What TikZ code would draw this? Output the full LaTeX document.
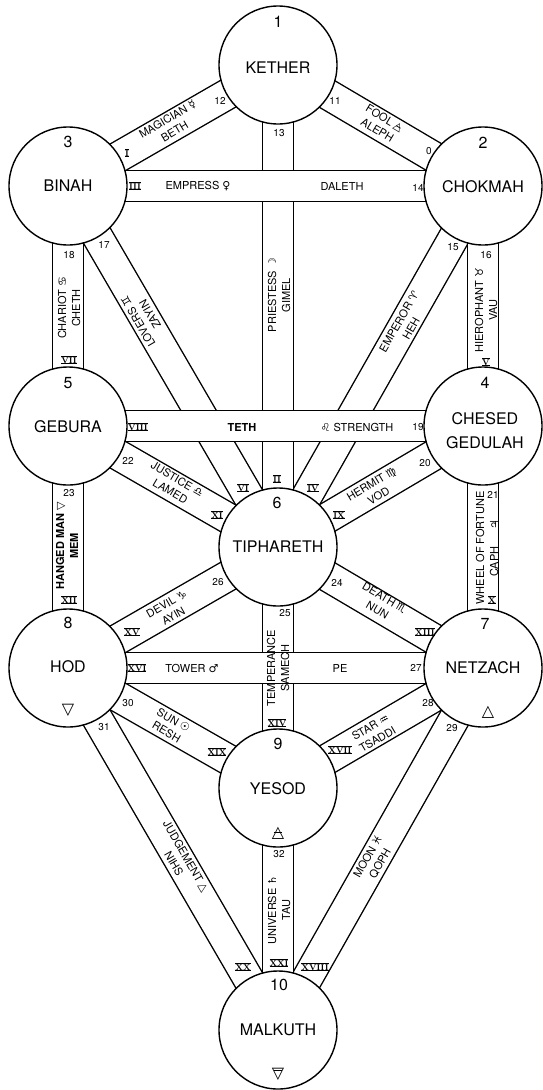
\documentclass[tikz,border=0pt]{standalone}
\usepackage{fontspec}
\newfontfamily\hv{TeX Gyre Heros}
\newfontfamily\dv{DejaVu Sans}
\pgfdeclarelayer{bands}
\pgfsetlayers{bands,main}
\newcommand\sy[1]{{\dv #1}}
\newcommand\airtri{\ooalign{{\dv △}\cr\hidewidth\rule[0.28em]{0.45em}{0.07em}\hidewidth\cr}}
\newcommand\earthtri{\ooalign{{\dv ▽}\cr\hidewidth\rule[0.45em]{0.45em}{0.07em}\hidewidth\cr}}
\newcommand\rn[1]{{\rmfamily\fontsize{8.5pt}{8.5pt}\selectfont\bfseries\setbox0=\hbox{#1}\rlap{\rule[-1pt]{\wd0}{0.8pt}}\rlap{\rule[6.4pt]{\wd0}{0.8pt}}\box0}}
\begin{document}
\begin{tikzpicture}[x=1pt,y=-1pt,
  seph/.style={circle, draw, line width=1.4pt, fill=white, minimum size=118pt, inner sep=0pt},
  band/.style={line width=1.4pt, double=white, double distance=29.2pt},
  sname/.style={font=\hv\fontsize{16}{16}\selectfont, inner sep=0pt},
  ssym/.style={font=\dv\fontsize{16}{16}\selectfont, inner sep=0pt},
  plab/.style={font=\hv\fontsize{11}{14}\selectfont, align=center, inner sep=0pt},
  pnum/.style={font=\hv\fontsize{10}{10}\selectfont, inner sep=0pt},
  rnum/.style={inner sep=0pt}]
\useasboundingbox (0,0) rectangle (542,1090);
% sephiroth
\node[seph] (kether)  at (278,65) {};
\node[seph] (chokmah) at (483,186) {};
\node[seph] (binah)   at (68,186) {};
\node[seph] (chesed)  at (483,426) {};
\node[seph] (gebura)  at (68,426) {};
\node[seph] (tiph)    at (278,547) {};
\node[seph] (netzach) at (483,668) {};
\node[seph] (hod)     at (68,668) {};
\node[seph] (yesod)   at (278,788) {};
\node[seph] (malkuth) at (278,1030) {};
% paths
\begin{pgfonlayer}{bands}
\fill[white] (0,0) rectangle (542,1090);
% diagonals
\draw[band] (kether.center) -- (chokmah.center);
\draw[band] (kether.center) -- (binah.center);
\draw[band] (chokmah.center) -- (tiph.center);
\draw[band] (binah.center) -- (tiph.center);
\draw[band] (chesed.center) -- (tiph.center);
\draw[band] (gebura.center) -- (tiph.center);
\draw[band] (tiph.center) -- (netzach.center);
\draw[band] (tiph.center) -- (hod.center);
\draw[band] (netzach.center) -- (yesod.center);
\draw[band] (hod.center) -- (yesod.center);
\draw[band] (netzach.center) -- (malkuth.center);
\draw[band] (hod.center) -- (malkuth.center);
% verticals
\draw[band] (kether.center) -- (tiph.center);
\draw[band] (chokmah.center) -- (chesed.center);
\draw[band] (binah.center) -- (gebura.center);
\draw[band] (chesed.center) -- (netzach.center);
\draw[band] (gebura.center) -- (hod.center);
\draw[band] (tiph.center) -- (yesod.center);
\draw[band] (yesod.center) -- (malkuth.center);
% horizontals
\draw[band] (binah.center) -- (chokmah.center);
\draw[band] (gebura.center) -- (chesed.center);
\draw[band] (hod.center) -- (netzach.center);
\end{pgfonlayer}
% sephira texts
\node[sname] (n1) at (278,22) {1};
\node[sname] (t1) at (278,68) {KETHER};
\node[sname] (n2) at (483,143) {2};
\node[sname] (t2) at (483,187) {CHOKMAH};
\node[sname] (n3) at (68,142) {3};
\node[sname] (t3) at (68,186) {BINAH};
\node[sname] (n4) at (485,383) {4};
\node[sname] (t4a) at (485,419) {CHESED};
\node[sname] (t4b) at (485,443) {GEDULAH};
\node[sname] (n5) at (68,383) {5};
\node[sname] (t5) at (68,427) {GEBURA};
\node[sname] (n6) at (277,503) {6};
\node[sname] (t6) at (278,547) {TIPHARETH};
\node[sname] (n7) at (485,624) {7};
\node[sname] (t7) at (483,668) {NETZACH};
\node[ssym] (s7) at (488,712) {△};
\node[sname] (n8) at (68,623) {8};
\node[sname] (t8) at (68,667) {HOD};
\node[ssym] (s8) at (68,710) {▽};
\node[sname] (n9) at (278,744) {9};
\node[sname] (t9) at (278,789) {YESOD};
\node[ssym] (s9) at (278,832) {\airtri};
\node[sname] (n10) at (279,985) {10};
\node[sname] (t10) at (278,1030) {MALKUTH};
\node[ssym] (s10) at (278,1073) {\earthtri};
% path labels
\node[plab, rotate=-30.8] (p11) at (381,124) {FOOL \airtri\\ALEPH};
\node[plab, rotate=30.5] (p12) at (171,125) {MAGICIAN \sy{☿}\\BETH};
\node[plab, rotate=90] (p13) at (279,295) {PRIESTESS \sy{☽}\\GIMEL};
\node[plab] (p14a) at (198,186) {EMPRESS \sy{♀}};
\node[plab] (p14b) at (342,186) {DALETH};
\node[plab, rotate=60.3] (p15) at (405,325) {EMPEROR \sy{♈}\\HEH};
\node[plab, rotate=90] (p16) at (486,310) {HIEROPHANT \sy{♉}\\VAU};
\node[plab, rotate=120.3] (p17) at (144,318) {LOVERS \sy{♊}\\ZAYIN};
\node[plab, rotate=90] (p18) at (69,308) {CHARIOT \sy{♋}\\CHETH};
\node[plab, font=\hv\bfseries\fontsize{11}{14}\selectfont] (p19a) at (242,427) {TETH};
\node[plab] (p19b) at (357,427) {\sy{♌} STRENGTH};
\node[plab, rotate=30.8] (p20) at (375,490) {HERMIT \sy{♍}\\VOD};
\node[plab, rotate=90] (p21) at (487,548) {WHEEL OF FORTUNE\\CAPH\hspace{1.6em}\sy{♃}};
\node[plab, rotate=-30.2] (p22) at (174,485) {JUSTICE \sy{♎}\\LAMED};
\node[plab, rotate=90, font=\hv\bfseries\fontsize{11}{14}\selectfont] (p23) at (67,546) {HANGED MAN {\mdseries\sy{▽}}\\MEM};
\node[plab, rotate=-30.5] (p24) at (381,604) {DEATH \sy{♏}\\NUN};
\node[plab, rotate=90] (p25) at (278,668) {TEMPERANCE\\SAMECH};
\node[plab, rotate=29.7] (p26) at (170,610) {DEVIL \sy{♑}\\AYIN};
\node[plab] (p27a) at (192,668) {TOWER \sy{♂}};
\node[plab] (p27b) at (340,668) {PE};
\node[plab, rotate=30.3] (p28) at (374,733) {STAR \sy{♒}\\TSADDI};
\node[plab, rotate=60.5] (p29) at (374,860) {MOON \sy{♓}\\QOPH};
\node[plab, rotate=-30] (p30) at (170,726) {SUN \sy{☉}\\RESH};
\node[plab, rotate=-59.9] (p31) at (180,860) {JUDGEMENT \sy{△}\\NIHS};
\node[plab, rotate=90] (p32) at (279,910) {UNIVERSE \sy{♄}\\TAU};
% path numbers
\node[pnum] (a11) at (335,101) {11};
\node[pnum] (a0) at (429,151) {0};
\node[pnum] (a12) at (220,101) {12};
\node[rnum] (r1) at (127,153) {\rn{I}};
\node[pnum] (a13) at (279,133) {13};
\node[rnum] (r2) at (277,479) {\rn{II}};
\node[rnum] (r3) at (135,186) {\rn{III}};
\node[pnum] (a14) at (418,188) {14};
\node[pnum] (a15) at (453,247) {15};
\node[rnum] (r4) at (313,488) {\rn{IV}};
\node[pnum] (a16) at (486,255) {16};
\node[rnum] (r5) at (486,362) {\rn{V}};
\node[pnum] (a17) at (104,245) {17};
\node[rnum] (r6) at (243,488) {\rn{VI}};
\node[pnum] (a18) at (69,255) {18};
\node[rnum] (r7) at (69,360) {\rn{VII}};
\node[rnum] (r8) at (138,427) {\rn{VIII}};
\node[pnum] (a19) at (418,427) {19};
\node[pnum] (a20) at (425,463) {20};
\node[rnum] (r9) at (339,515) {\rn{IX}};
\node[pnum] (a21) at (493,495) {21};
\node[rnum] (r10) at (492,600) {\rn{X}};
\node[pnum] (a22) at (128,461) {22};
\node[rnum] (r11) at (217,515) {\rn{XI}};
\node[pnum] (a23) at (69,493) {23};
\node[rnum] (r12) at (69,600) {\rn{XII}};
\node[pnum] (a24) at (337,583) {24};
\node[rnum] (r13) at (425,632) {\rn{XIII}};
\node[pnum] (a25) at (285,613) {25};
\node[rnum] (r14) at (277,723) {\rn{XIV}};
\node[pnum] (a26) at (218,582) {26};
\node[rnum] (r15) at (132,632) {\rn{XV}};
\node[rnum] (r16) at (137,668) {\rn{XVI}};
\node[pnum] (a27) at (416,668) {27};
\node[pnum] (a28) at (428,703) {28};
\node[rnum] (r17) at (340,750) {\rn{XVII}};
\node[pnum] (a29) at (452,728) {29};
\node[rnum] (r18) at (315,967) {\rn{XVIII}};
\node[pnum] (a30) at (128,703) {30};
\node[rnum] (r19) at (217,752) {\rn{XIX}};
\node[pnum] (a31) at (104,727) {31};
\node[rnum] (r20) at (243,967) {\rn{XX}};
\node[pnum] (a32) at (279,854) {32};
\node[rnum] (r21) at (279,963) {\rn{XXI}};
\end{tikzpicture}
\end{document}
